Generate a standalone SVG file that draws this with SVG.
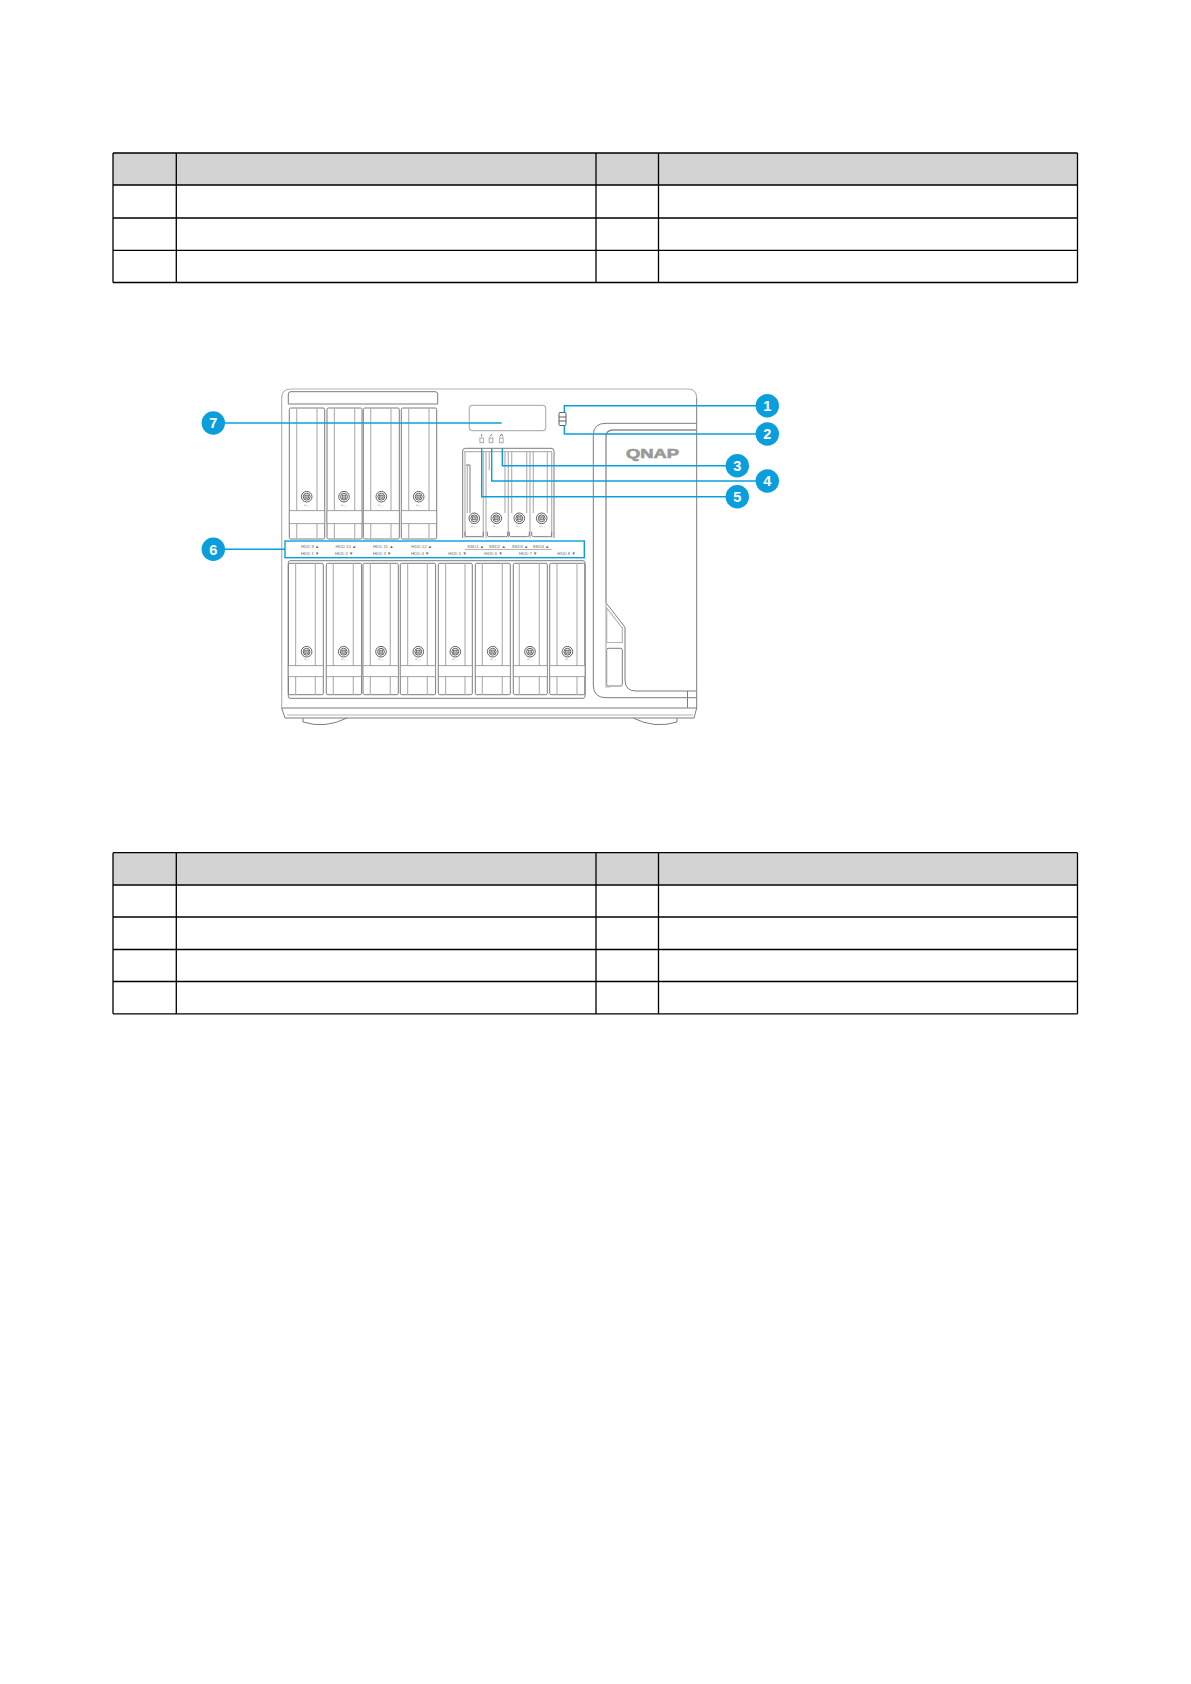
<svg xmlns="http://www.w3.org/2000/svg" width="1191" height="1684" viewBox="0 0 1191 1684">
<style>
.tl{stroke:#000;stroke-width:1.3;fill:none}
.hd{fill:#d3d3d3;stroke:none}
.o{fill:none;stroke:#7d7d7d;stroke-width:1}
.o2{fill:none;stroke:#b4b4b4;stroke-width:1.2}
.bd{fill:#fff;stroke:#8a8a8a;stroke-width:.8}
.k{fill:none;stroke:#5f5f5f;stroke-width:1}
.b{fill:none;stroke:#0a9fdc;stroke-width:1.4}
.c{fill:#0a9fdc}
.n{font:bold 14.500px "Liberation Sans",Arial,sans-serif;fill:#fff;text-anchor:middle}
.s{font:4.300px "Liberation Sans",Arial,sans-serif;fill:#666}
.m{font:3px "Liberation Sans",Arial,sans-serif;fill:#888;text-anchor:middle}
</style>
<defs>
<g id="screw"><circle r="5.300" class="k"/><circle r="3.400" class="k"/><rect x="-1.800" y="-1.500" width="3.600" height="3" fill="#bbb" stroke="#5f5f5f" stroke-width=".7"/></g>
</defs>
<g id="table1">
<rect class="hd" x="113" y="153" width="964.500" height="32"/>
<path class="tl" d="M113 153H1077.500M113 185H1077.500M113 218H1077.500M113 250.300H1077.500M113 282.500H1077.500M113 153V282.500M176.300 153V282.500M596 153V282.500M658.500 153V282.500M1077.500 153V282.500"/>
</g>
<g id="table2">
<rect class="hd" x="113" y="852.700" width="964.500" height="32"/>
<path class="tl" d="M113 852.700H1077.500M113 885H1077.500M113 917H1077.500M113 949.500H1077.500M113 981.500H1077.500M113 1013.800H1077.500M113 852.700V1013.800M176.300 852.700V1013.800M596 852.700V1013.800M658.500 852.700V1013.800M1077.500 852.700V1013.800"/>
</g>
<g id="nas-body">
<path class="o2" d="M281.700 708V398Q281.700 389 291 389H688Q696.700 389 696.700 398"/>
<path class="o" d="M696.700 398V708H281.700M281.700 708L285 718H694L696.700 708"/>
<path class="o2" d="M287 715H693"/>
<path class="o" d="M303 718V722Q325 729 347 718M633 718Q655 729 677 722V718"/>
<path class="o" d="M288.300 404V394Q288.300 391.700 291 391.700H435Q437.700 391.700 437.700 394V404H288.300"/>
<rect class="o2" x="469.300" y="405.300" width="76.400" height="25.400" rx="3"/>
<rect class="o2" x="479.900" y="438" width="3.600" height="4.600"/><rect class="o2" x="489.200" y="438" width="3.600" height="4.600"/><rect class="o2" x="499.500" y="438" width="3.600" height="4.600"/>
<path class="o" d="M481.700 434V436.500M490 436.500L492 434M500 436.500L501.500 434L503 436.500"/>
<rect class="k" x="559" y="412.500" width="7" height="13" rx="1"/>
<path class="k" d="M559 417H566M559 421H566"/>
</g>
<g id="right-panel">
<path class="o" d="M593.300 685V435Q593.300 423.300 606 423.300H696.700M593.300 685Q593.300 697.700 606 697.700H696.700"/>
<path d="M606 602.700V437Q606 430 613 430H696.700" fill="none" stroke="#8c8c8c" stroke-width="1.300"/>
<path class="o" d="M606 602.700L625 627.300V680Q625 691 636 691H696.700"/>
<path class="o2" d="M606.700 608V642.500H622.300V628L606.700 608Z"/>
<rect class="o" x="606.700" y="648.300" width="15.600" height="37.700" rx="1.500"/>
<path class="o2" d="M606 602V687H610"/>
<path class="o" d="M687.500 691V708"/>
<text x="626" y="457.500" font-family="Liberation Sans, Arial, sans-serif" font-weight="bold" font-size="13" fill="#999" stroke="#999" stroke-width=".6" textLength="53" lengthAdjust="spacingAndGlyphs">QNAP</text>
</g>
<g id="top-bays">
<g transform="translate(289.300 408)"><rect width="35.400" height="131" rx="1.500" class="o"/><path class="o2" d="M7.400 0V131M27.700 0V131"/><rect y="102.700" width="35.400" height="13" class="bd"/><use href="#screw" x="17.400" y="88.700"/><text class="m" x="17.400" y="98.500">℡ ⁝ ⁝</text></g>
<g transform="translate(327 408)"><rect width="35" height="131" rx="1.500" class="o"/><path class="o2" d="M7.400 0V131M27.700 0V131"/><rect y="102.700" width="35" height="13" class="bd"/><use href="#screw" x="17" y="88.700"/><text class="m" x="17" y="98.500">℡ ⁝ ⁝</text></g>
<g transform="translate(363.300 408)"><rect width="36" height="131" rx="1.500" class="o"/><path class="o2" d="M7.400 0V131M27.700 0V131"/><rect y="102.700" width="36" height="13" class="bd"/><use href="#screw" x="18" y="88.700"/><text class="m" x="18" y="98.500">℡ ⁝ ⁝</text></g>
<g transform="translate(401.300 408)"><rect width="35.400" height="131" rx="1.500" class="o"/><path class="o2" d="M7.400 0V131M27.700 0V131"/><rect y="102.700" width="35.400" height="13" class="bd"/><use href="#screw" x="17.400" y="88.700"/><text class="m" x="17.400" y="98.500">℡ ⁝ ⁝</text></g>
</g>
<g id="ssd-bays">
<path class="o" d="M462.700 538V451Q462.700 448.300 465.500 448.300H551Q554 448.300 554 451V538"/>
<path class="o2" d="M464 451.700H552"/>
<path class="o2" d="M467.300 465V513M465 451.700V538M483.300 452V538M486 452V538M489.300 452V470M505 452V513M508.300 452V538M511.700 452V513M526.700 452V513M530 452V538M533.300 452V513M547.300 452V513M551.700 452V538"/>
<path class="o" d="M466 465H470V513"/>
<g class="ssd-handles"><path class="o" d="M465 531.700V535Q465 536.700 467 536.700H481.300Q483.300 536.700 483.300 535V531.700M487.300 531.700V535Q487.300 536.700 489.300 536.700H505.700Q507.700 536.700 507.700 535V531.700M509.300 531.700V535Q509.300 536.700 511.300 536.700H527.300Q529.300 536.700 529.300 535V531.700M531.700 531.700V535Q531.700 536.700 533.700 536.700H549.700Q551.700 536.700 551.700 535V531.700"/></g>
<use href="#screw" x="474.300" y="518.300"/><use href="#screw" x="496.300" y="518.300"/><use href="#screw" x="519.300" y="518.300"/><use href="#screw" x="541.700" y="518.300"/>
<text class="m" x="474.300" y="528.300">℡ ⁝ ⁝</text><text class="m" x="496.300" y="528.300">℡ ⁝ ⁝</text><text class="m" x="519.300" y="528.300">℡ ⁝ ⁝</text><text class="m" x="541.700" y="528.300">℡ ⁝ ⁝</text>
</g>
<g id="bay-labels">
<text class="s" x="301" y="547.500">HDD 9 ▲</text><text class="s" x="335.500" y="547.500">HDD 10 ▲</text><text class="s" x="373" y="547.500">HDD 11 ▲</text><text class="s" x="411.300" y="547.500">HDD 12 ▲</text>
<text class="s" x="467.300" y="547.500">SSD1 ▲</text><text class="s" x="489" y="547.500">SSD2 ▲</text><text class="s" x="511.700" y="547.500">SSD3 ▲</text><text class="s" x="532.700" y="547.500">SSD4 ▲</text>
<path class="o2" d="M465 549.500H551.700" stroke-width=".8"/>
<text class="s" x="301" y="555">HDD 1 ▼</text><text class="s" x="335" y="555">HDD 2 ▼</text><text class="s" x="373" y="555">HDD 3 ▼</text><text class="s" x="411" y="555">HDD 4 ▼</text><text class="s" x="448.300" y="555">HDD 5 ▼</text><text class="s" x="484.300" y="555">HDD 6 ▼</text><text class="s" x="519" y="555">HDD 7 ▼</text><text class="s" x="557.300" y="555">HDD 8 ▼</text>
</g>
<g id="bottom-bays">
<rect class="o" x="288.300" y="560.700" width="296.700" height="137.600" rx="2"/>
<g transform="translate(288.300 563.300)"><rect width="35" height="131.400" rx="1.500" class="o"/><path class="o2" d="M7.300 0V131.400M27 0V131.400"/><rect y="102.400" width="35" height="11" class="bd"/><use href="#screw" x="18.300" y="88.400"/><text class="m" x="18.300" y="98">℡ ⁝ ⁝</text></g>
<g transform="translate(326.300 563.300)"><rect width="35.300" height="131.400" rx="1.500" class="o"/><path class="o2" d="M7 0V131.400M27 0V131.400"/><rect y="102.400" width="35.300" height="11" class="bd"/><use href="#screw" x="17.400" y="88.400"/><text class="m" x="17.400" y="98">℡ ⁝ ⁝</text></g>
<g transform="translate(363 563.300)"><rect width="35.300" height="131.400" rx="1.500" class="o"/><path class="o2" d="M7.300 0V131.400M27.300 0V131.400"/><rect y="102.400" width="35.300" height="11" class="bd"/><use href="#screw" x="18" y="88.400"/><text class="m" x="18" y="98">℡ ⁝ ⁝</text></g>
<g transform="translate(400.300 563.300)"><rect width="35.300" height="131.400" rx="1.500" class="o"/><path class="o2" d="M7.300 0V131.400M27 0V131.400"/><rect y="102.400" width="35.300" height="11" class="bd"/><use href="#screw" x="18" y="88.400"/><text class="m" x="18" y="98">℡ ⁝ ⁝</text></g>
<g transform="translate(438.300 563.300)"><rect width="34" height="131.400" rx="1.500" class="o"/><path class="o2" d="M7.300 0V131.400M26.700 0V131.400"/><rect y="102.400" width="34" height="11" class="bd"/><use href="#screw" x="17" y="88.400"/><text class="m" x="17" y="98">℡ ⁝ ⁝</text></g>
<g transform="translate(475.300 563.300)"><rect width="35" height="131.400" rx="1.500" class="o"/><path class="o2" d="M7 0V131.400M27 0V131.400"/><rect y="102.400" width="35" height="11" class="bd"/><use href="#screw" x="17.400" y="88.400"/><text class="m" x="17.400" y="98">℡ ⁝ ⁝</text></g>
<g transform="translate(513.300 563.300)"><rect width="34" height="131.400" rx="1.500" class="o"/><path class="o2" d="M6 0V131.400M26 0V131.400"/><rect y="102.400" width="34" height="11" class="bd"/><use href="#screw" x="16.700" y="88.400"/><text class="m" x="16.700" y="98">℡ ⁝ ⁝</text></g>
<g transform="translate(549.700 563.300)"><rect width="35.300" height="131.400" rx="1.500" class="o"/><path class="o2" d="M7.300 0V131.400M27.300 0V131.400"/><rect y="102.400" width="35.300" height="11" class="bd"/><use href="#screw" x="17.700" y="88.400"/><text class="m" x="17.700" y="98">℡ ⁝ ⁝</text></g>
</g>
<g id="connectors">
<path class="b" d="M564.300 412.500V405.700H767"/>
<path class="b" d="M564.300 425.500V434H767"/>
<path class="b" d="M502.300 448.300V465.700H737"/>
<path class="b" d="M491.700 448.300V481H767"/>
<path class="b" d="M481.700 448.300V496.700H737"/>
<path class="b" d="M213 423H501.700"/>
<path class="b" d="M213 549.300H285"/>
<rect class="b" x="285" y="541" width="299.300" height="16.700"/>
</g>
<g id="n1"><circle class="c" cx="767.300" cy="405.700" r="11.700"/><text class="n" x="767.300" y="411">1</text></g>
<g id="n2"><circle class="c" cx="767.300" cy="434" r="11.700"/><text class="n" x="767.300" y="439.300">2</text></g>
<g id="n3"><circle class="c" cx="737.300" cy="465.700" r="11.700"/><text class="n" x="737.300" y="471">3</text></g>
<g id="n4"><circle class="c" cx="767.300" cy="481" r="11.700"/><text class="n" x="767.300" y="486.300">4</text></g>
<g id="n5"><circle class="c" cx="737.300" cy="496.700" r="11.700"/><text class="n" x="737.300" y="502">5</text></g>
<g id="n6"><circle class="c" cx="213.300" cy="549.300" r="11.700"/><text class="n" x="213.300" y="554.600">6</text></g>
<g id="n7"><circle class="c" cx="213.300" cy="423" r="11.700"/><text class="n" x="213.300" y="428.300">7</text></g>
</svg>
